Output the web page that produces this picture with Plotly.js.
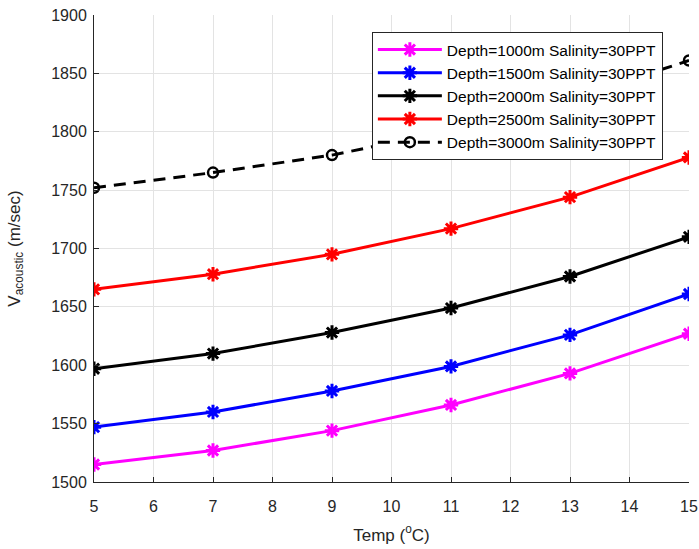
<!DOCTYPE html>
<html>
<head>
<meta charset="utf-8">
<script src="https://cdn.plot.ly/plotly-3.0.1.min.js"></script>
<style>
  html, body { margin: 0; padding: 0; background: #fff; }
  #chart { width: 699px; height: 549px; }
</style>
</head>
<body>
<div id="chart"></div>
<script>
// Temperature (°C) along the x axis
const temps = [5, 7, 9, 11, 13, 15];

// Acoustic velocity (m/sec) for each depth, salinity 30 PPT
const depth1000 = [1515, 1527, 1544, 1566, 1593, 1627];
const depth1500 = [1547, 1560, 1578, 1599, 1626, 1661];
const depth2000 = [1597, 1610, 1628, 1649, 1676, 1710];
const depth2500 = [1665, 1678, 1695, 1717, 1744, 1778];
const depth3000 = [1752, 1765, 1780, 1801, 1828, 1861];

const seriesNames = [
  'Depth=1000m Salinity=30PPT',
  'Depth=1500m Salinity=30PPT',
  'Depth=2000m Salinity=30PPT',
  'Depth=2500m Salinity=30PPT',
  'Depth=3000m Salinity=30PPT'
];

const FONT = 'Liberation Sans, Arial, Helvetica, sans-serif';

function starTrace(y, name, color) {
  return {
    x: temps, y: y, name: name, type: 'scatter', mode: 'lines+markers',
    line: { color: color, width: 3 },
    marker: { symbol: 'asterisk-open', size: 12, color: color,
              line: { color: color, width: 3 } }
  };
}

const traces = [
  starTrace(depth1000, seriesNames[0], '#ff00ff'),
  starTrace(depth1500, seriesNames[1], '#0000ff'),
  starTrace(depth2000, seriesNames[2], '#000000'),
  starTrace(depth2500, seriesNames[3], '#ff0000'),
  {
    x: temps, y: depth3000, name: seriesNames[4], type: 'scatter', mode: 'lines+markers',
    line: { color: '#000000', width: 3, dash: '12px,8px' },
    marker: { symbol: 'circle-open', size: 10, color: '#000000',
              line: { color: '#000000', width: 2.5 } }
  }
];

const layout = {
  width: 699, height: 549,
  margin: { l: 94, r: 10, t: 15, b: 67 },
  paper_bgcolor: '#ffffff', plot_bgcolor: '#ffffff',
  font: { family: FONT, size: 16, color: '#262626' },
  showlegend: true,
  legend: {
    x: 0.467, y: 0.9636, xanchor: 'left', yanchor: 'top',
    bgcolor: '#ffffff', bordercolor: '#262626', borderwidth: 1,
    font: { family: FONT, size: 15.5, color: '#000000' },
    itemwidth: 64,
    tracegroupgap: 0
  },
  xaxis: {
    range: [5, 15], dtick: 1, tick0: 5,
    showgrid: true, gridcolor: '#e3e3e3', gridwidth: 1,
    zeroline: false, showline: true, linecolor: '#262626', linewidth: 1,
    ticks: 'inside', ticklen: 5, tickcolor: '#262626',
    ticklabelstandoff: 10,
    tickfont: { family: FONT, size: 16, color: '#262626' },
    title: { text: 'Temp (<sup>o</sup>C)', font: { family: FONT, size: 17, color: '#262626' }, standoff: 14 }
  },
  yaxis: {
    range: [1500, 1900], dtick: 50, tick0: 1500,
    showgrid: true, gridcolor: '#e3e3e3', gridwidth: 1,
    zeroline: false, showline: true, linecolor: '#262626', linewidth: 1,
    ticks: 'inside', ticklen: 5, tickcolor: '#262626',
    ticklabelstandoff: 3,
    tickfont: { family: FONT, size: 16, color: '#262626' },
    title: { text: 'V<sub>acoustic</sub> (m/sec)', font: { family: FONT, size: 17, color: '#262626' }, standoff: 26 }
  }
};

Plotly.newPlot('chart', traces, layout, { displayModeBar: false, staticPlot: true });
</script>
</body>
</html>
